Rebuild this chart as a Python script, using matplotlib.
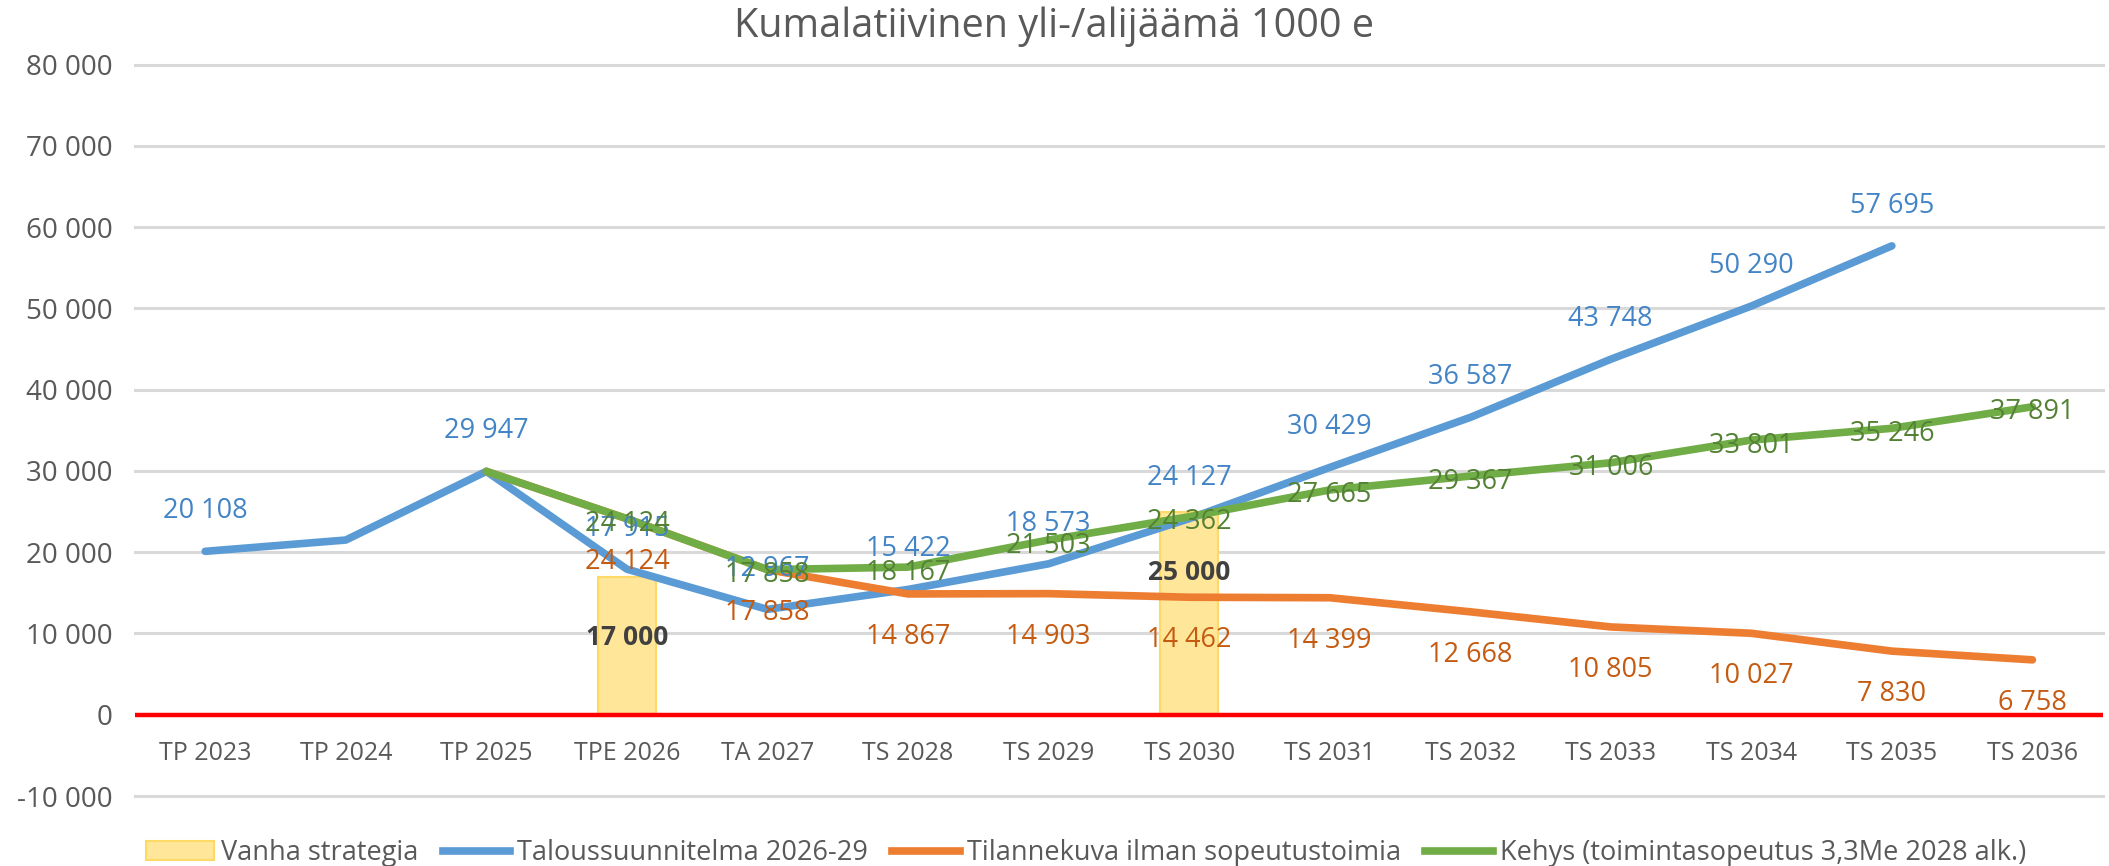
import numpy as np
import matplotlib
matplotlib.use("Agg")
import matplotlib.pyplot as plt
from matplotlib.lines import Line2D
from matplotlib.patches import Patch

plt.rcParams['font.family'] = ['Open Sans', 'DejaVu Sans']

nan = np.nan
categories = ["TP 2023", "TP 2024", "TP 2025", "TPE 2026", "TA 2027", "TS 2028", "TS 2029",
              "TS 2030", "TS 2031", "TS 2032", "TS 2033", "TS 2034", "TS 2035", "TS 2036"]
vanha_strategia = [nan, nan, nan, 17000, nan, nan, nan, 25000, nan, nan, nan, nan, nan, nan]
taloussuunnitelma = [20108, 21500, 29947, 17915, 12967, 15422, 18573, 24127, 30429, 36587,
                     43748, 50290, 57695, nan]
tilannekuva = [nan, nan, 29947, 24124, 17858, 14867, 14903, 14462, 14399, 12668, 10805,
               10027, 7830, 6758]
kehys = [nan, nan, 29947, 24124, 17858, 18167, 21503, 24362, 27665, 29367, 31006, 33801,
         35246, 37891]
# points whose value label is not shown in the original
hidden_labels = {"blue": [1], "orange": [2], "green": [2]}

title = "Kumalatiivinen yli-/alijäämä 1000 e"
legend_names = ["Vanha strategia", "Taloussuunnitelma 2026-29",
                "Tilannekuva ilman sopeutustoimia", "Kehys (toimintasopeutus 3,3Me 2028 alk.)"]

C_BLUE, C_ORANGE, C_GREEN = "#5B9BD5", "#ED7D31", "#70AD47"
L_BLUE, L_ORANGE, L_GREEN = "#4284C6", "#C55A11", "#548235"
TXT = "#595959"


def fmt(v):
    return f"{int(round(v)):,}".replace(",", " ")


fig = plt.figure(figsize=(21.09, 8.66), dpi=100)
ax = fig.add_axes([0.064, 0.0808, 0.933, 0.8446])
x = np.arange(len(categories))

ax.set_xlim(-0.5, len(categories) - 0.5)
ax.set_ylim(-10000, 80000)
ax.set_yticks(np.arange(-10000, 80001, 10000))
ax.set_yticklabels([fmt(v) for v in np.arange(-10000, 80001, 10000)])
for y in np.arange(-10000, 80001, 10000):
    if y != 0:
        ax.axhline(y, color="#D9D9D9", lw=2.2, zorder=0, clip_on=False)

# bars
bv = np.array(vanha_strategia, dtype=float)
ax.bar(x, np.nan_to_num(bv), width=0.41, color="#FFE699", edgecolor="#FFD966",
       linewidth=1.5, zorder=1)
for i, v in enumerate(bv):
    if not np.isnan(v):
        ax.annotate(fmt(v), (i, v), xytext=(0, -44), textcoords="offset points",
                    ha="center", va="center", fontsize=19, fontweight="bold",
                    color="#404040", zorder=6)

ax.axhline(0, color="#FF0000", lw=3.2, zorder=2)

series = [
    (taloussuunnitelma, C_BLUE, L_BLUE, 29, "blue"),
    (tilannekuva, C_ORANGE, L_ORANGE, -31, "orange"),
    (kehys, C_GREEN, L_GREEN, -4, "green"),
]
for vals, col, lcol, off, key in series:
    arr = np.array(vals, dtype=float)
    ax.plot(x, arr, color=col, lw=5.5, solid_capstyle="round", solid_joinstyle="round", zorder=3)
    for i, v in enumerate(arr):
        if np.isnan(v) or i in hidden_labels[key]:
            continue
        ax.annotate(fmt(v), (i, v), xytext=(0, off), textcoords="offset points",
                    ha="center", va="center", fontsize=19.5, color=lcol, zorder=5)

ax.set_xticks(x)
ax.set_xticklabels(categories)
ax.spines["bottom"].set_position(("data", 0))
for s in ax.spines.values():
    s.set_visible(False)
ax.tick_params(axis="x", length=0, pad=19, labelsize=18, labelcolor=TXT)
ax.tick_params(axis="y", length=0, pad=16, labelsize=20, labelcolor=TXT)

fig.text(0.5, 0.969, title, ha="center", va="center", fontsize=28.5, color=TXT)

handles = [Patch(facecolor="#FFE699", edgecolor="#FFD966", linewidth=1.5),
           Line2D([], [], color=C_BLUE, lw=5.5),
           Line2D([], [], color=C_ORANGE, lw=5.5),
           Line2D([], [], color=C_GREEN, lw=5.5)]
leg = fig.legend(handles, legend_names, loc="center", bbox_to_anchor=(0.515, 0.015), ncol=4,
                 frameon=False, fontsize=19.5, handlelength=2.5, handletextpad=0.25,
                 columnspacing=0.9, labelcolor=TXT)

fig.savefig("out.png", dpi=100)
